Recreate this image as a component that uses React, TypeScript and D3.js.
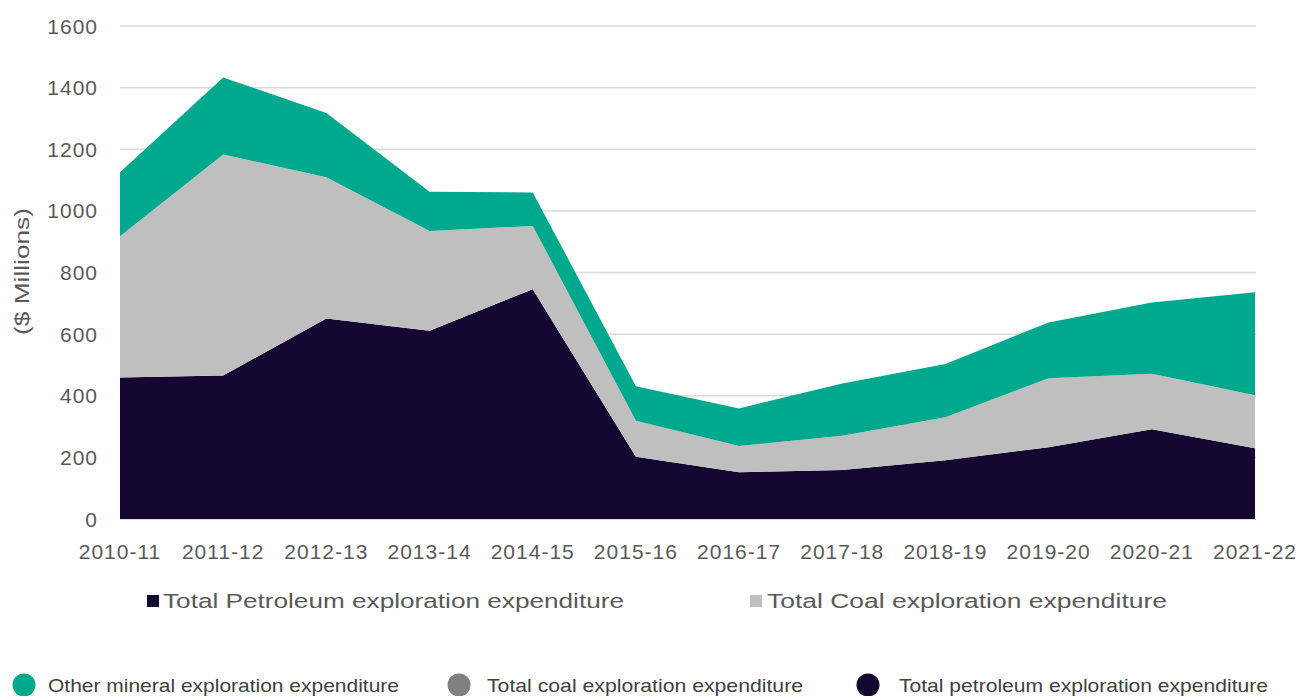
import React from 'react';
import * as d3 from 'd3';

const categories = ['2010-11', '2011-12', '2012-13', '2013-14', '2014-15', '2015-16', '2016-17', '2017-18', '2018-19', '2019-20', '2020-21', '2021-22'];
const petroleum = [459, 466, 651, 611, 746, 202, 152, 159, 191, 233, 291, 230];
const coal = [459, 717, 458, 324, 205, 117, 85, 111, 139, 224, 180, 172];
const otherMineral = [207, 250, 209, 127, 109, 112, 122, 170, 173, 181, 232, 334];
const yTicks = [0, 200, 400, 600, 800, 1000, 1200, 1400, 1600];

const seriesKeys = ['petroleum', 'coal', 'other'];
const seriesColors: Record<string, string> = { petroleum: '#140833', coal: '#BFBFBF', other: '#00A98E' };

const W = 1316;
const H = 696;
const FONT = '"Liberation Sans", Arial, sans-serif';

export default function App() {
  const x = d3.scalePoint<string>().domain(categories).range([120, 1255]);
  const y = d3.scaleLinear().domain([0, 1600]).range([519, 26]);

  const rows = categories.map((c, i) => ({ cat: c, petroleum: petroleum[i], coal: coal[i], other: otherMineral[i] }));
  const stacked = d3.stack<any>().keys(seriesKeys)(rows);
  const area = d3
    .area<any>()
    .x((d) => x(d.data.cat) as number)
    .y0((d) => y(d[0]))
    .y1((d) => y(d[1]));

  const tickColor = '#595959';

  return (
    <div style={{ position: 'absolute', left: 0, top: 0 }}>
      <svg width={W} height={H} style={{ display: 'block', background: '#fff' }}>
        {yTicks.map((t) => (
          <line key={'g' + t} x1={120} x2={1256} y1={y(t)} y2={y(t)} stroke="#D9D9D9" strokeWidth={1.5} />
        ))}
        {stacked.map((s) => (
          <path key={s.key} d={area(s as any) || ''} fill={seriesColors[s.key]} />
        ))}
        <line x1={120} x2={1256} y1={y(0) + 0.5} y2={y(0) + 0.5} stroke="#D9D9D9" strokeWidth={1} />
        {yTicks.map((t) => (
          <text key={'yt' + t} x={98} y={y(t)} dy="0.36em" textAnchor="end" fontFamily={FONT} fontSize={21} letterSpacing={1} fill={tickColor}>
            {t}
          </text>
        ))}
        {categories.map((c) => (
          <text key={'xt' + c} x={x(c) as number} y={559} textAnchor="middle" fontFamily={FONT} fontSize={21} letterSpacing={1} fill={tickColor}>
            {c}
          </text>
        ))}
        <text
          transform="translate(29,271.5) rotate(-90)"
          textAnchor="middle"
          fontFamily={FONT}
          fontSize={21}
          fill={tickColor}
          textLength={127}
          lengthAdjust="spacingAndGlyphs"
        >
          ($ Millions)
        </text>

        {/* legend row 1 */}
        <rect x={147} y={595} width={12} height={12} fill={seriesColors.petroleum} />
        <text x={163} y={607.5} fontFamily={FONT} fontSize={20.5} fill={tickColor} textLength={461} lengthAdjust="spacingAndGlyphs">
          Total Petroleum exploration expenditure
        </text>
        <rect x={750} y={595} width={12} height={12} fill={seriesColors.coal} />
        <text x={767} y={607.5} fontFamily={FONT} fontSize={20.5} fill={tickColor} textLength={400} lengthAdjust="spacingAndGlyphs">
          Total Coal exploration expenditure
        </text>

        {/* legend row 2 */}
        <circle cx={24} cy={685} r={11.5} fill={seriesColors.other} />
        <text x={48} y={691.5} fontFamily={FONT} fontSize={18.5} fill="#404040" textLength={351} lengthAdjust="spacingAndGlyphs">
          Other mineral exploration expenditure
        </text>
        <circle cx={459} cy={685} r={11.5} fill="#808080" />
        <text x={487} y={691.5} fontFamily={FONT} fontSize={18.5} fill="#404040" textLength={316} lengthAdjust="spacingAndGlyphs">
          Total coal exploration expenditure
        </text>
        <circle cx={868} cy={685} r={11.5} fill={seriesColors.petroleum} />
        <text x={899} y={691.5} fontFamily={FONT} fontSize={18.5} fill="#404040" textLength={369} lengthAdjust="spacingAndGlyphs">
          Total petroleum exploration expenditure
        </text>
      </svg>
    </div>
  );
}
